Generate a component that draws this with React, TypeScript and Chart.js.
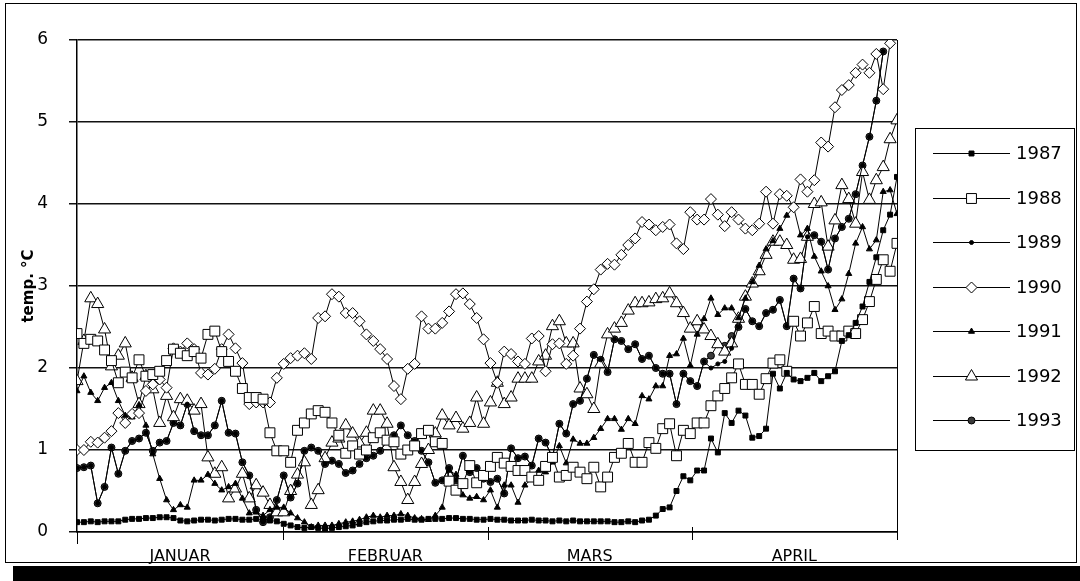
import React, { useEffect, useRef } from 'react';
import { Chart, registerables } from 'chart.js';

Chart.register(...registerables);

const FONT = "'DejaVu Sans', sans-serif";

// ---------- data ----------
const years = ['1987', '1988', '1989', '1990', '1991', '1992', '1993'];
const months = ['JANUAR', 'FEBRUAR', 'MARS', 'APRIL'];
const monthCenters = [14.95, 44.75, 74.4, 104.1];
const monthBoundaries = [29.9, 59.6, 89.25];
const yTickValues = [0, 1, 2, 3, 4, 5, 6];
const days = Array.from({ length: 120 }, (_, i) => i);

const t1987 = [
  0.12, 0.12, 0.13, 0.12, 0.13, 0.13, 0.13, 0.15, 0.16, 0.16,
  0.17, 0.17, 0.18, 0.18, 0.17, 0.14, 0.13, 0.14, 0.15, 0.15,
  0.14, 0.15, 0.16, 0.16, 0.15, 0.15, 0.16, 0.15, 0.14, 0.13,
  0.10, 0.08, 0.06, 0.05, 0.06, 0.05, 0.04, 0.05, 0.06, 0.07,
  0.08, 0.10, 0.12, 0.13, 0.14, 0.14, 0.15, 0.15, 0.16, 0.15,
  0.15, 0.16, 0.16, 0.16, 0.17, 0.17, 0.16, 0.16, 0.15, 0.15,
  0.16, 0.15, 0.15, 0.14, 0.14, 0.14, 0.15, 0.14, 0.14, 0.13,
  0.14, 0.13, 0.14, 0.13, 0.13, 0.13, 0.13, 0.13, 0.12, 0.12,
  0.13, 0.12, 0.14, 0.15, 0.2, 0.28, 0.3, 0.5, 0.68, 0.63,
  0.75, 0.75, 1.14, 0.97, 1.45, 1.33, 1.48, 1.42, 1.15, 1.17,
  1.26, 1.93, 1.75, 1.94, 1.86, 1.84, 1.88, 1.94, 1.84, 1.9,
  1.96, 2.33, 2.4, 2.55, 2.75, 3.05, 3.35, 3.68, 3.87, 4.33,
];

const t1988 = [
  2.42, 2.3, 2.35, 2.33, 2.22, 2.09, 1.82, 1.95, 1.88, 2.1,
  1.9, 1.92, 1.96, 2.09, 2.23, 2.18, 2.15, 2.2, 2.12, 2.41,
  2.45, 2.2, 2.08, 1.96, 1.75, 1.64, 1.64, 1.62, 1.21, 0.99,
  0.99, 0.85, 1.24, 1.33, 1.44, 1.48, 1.46, 1.33, 1.18, 0.96,
  1.05, 0.95, 1.0, 1.15, 1.21, 1.12, 1.1, 0.95, 1.0, 1.05,
  1.2, 1.24, 1.1, 1.08, 0.62, 0.51, 0.59, 0.81, 0.6, 0.69,
  0.8, 0.91, 0.84, 0.8, 0.75, 0.75, 0.67, 0.63, 0.8, 0.91,
  0.67, 0.69, 0.79, 0.73, 0.65, 0.79, 0.55, 0.67, 0.91, 0.96,
  1.08, 0.85, 0.85, 1.09, 1.02, 1.26, 1.32, 0.93, 1.24, 1.2,
  1.33, 1.33, 1.54, 1.66, 1.75, 1.88, 2.05, 1.8, 1.8, 1.68,
  1.87, 2.06, 2.1, 1.96, 2.57, 2.39, 2.55, 2.75, 2.42, 2.45,
  2.39, 2.39, 2.45, 2.42, 2.59, 2.81, 3.08, 3.32, 3.18, 3.52,
];

const t1989 = [
  0.78, 0.79, 0.81, 0.35, 0.55, 1.03, 0.71, 0.99, 1.11, 1.14,
  1.21, 0.99, 1.09, 1.11, 1.33, 1.3, 1.56, 1.23, 1.18, 1.18,
  1.3, 1.6, 1.21, 1.2, 0.85, 0.69, 0.27, 0.12, 0.18, 0.39,
  0.69, 0.42, 0.59, 0.99, 1.03, 0.99, 0.83, 0.87, 0.83, 0.72,
  0.75, 0.83, 0.9, 0.93, 0.99, 1.11, 1.18, 1.3, 1.18, 1.11,
  0.99, 0.85, 0.6, 0.63, 0.78, 0.63, 0.93, 0.73, 0.78, 0.65,
  0.61, 0.65, 0.47, 1.02, 0.9, 0.92, 0.81, 1.14, 1.09, 0.91,
  1.32, 1.2, 1.56, 1.6, 1.87, 2.16, 2.1, 1.95, 2.35, 2.33,
  2.23, 2.29, 2.11, 2.15, 2.0, 1.93, 1.93, 1.56, 1.93, 1.84,
  1.78, 2.08, 2.0, 2.05, 2.08, 2.24, 2.5, 2.72, 2.57, 2.51,
  2.67, 2.71, 2.83, 2.51, 3.09, 2.97, 3.6, 3.62, 3.54, 3.2,
  3.58, 3.72, 3.82, 4.12, 4.47, 4.82, 5.26, 5.86, null, null,
];

const t1990 = [
  1.0, 1.0, 1.1, 1.09, 1.15, 1.23, 1.45, 1.33, 1.44, 1.45,
  1.72, 1.8, 1.86, 1.76, 2.24, 2.2, 2.3, 2.23, 1.94, 1.92,
  1.99, 2.23, 2.41, 2.24, 2.06, 1.56, 1.58, 1.58, 1.58, 1.88,
  2.05, 2.12, 2.15, 2.18, 2.11, 2.61, 2.63, 2.9, 2.87, 2.67,
  2.67, 2.57, 2.41, 2.33, 2.23, 2.11, 1.78, 1.62, 1.99, 2.05,
  2.63, 2.48, 2.48, 2.55, 2.69, 2.9, 2.91, 2.78, 2.61, 2.35,
  2.06, 1.82, 2.2, 2.17, 2.08, 2.05, 2.36, 2.39, 1.96, 2.29,
  2.3, 2.05, 2.15, 2.48, 2.81, 2.96, 3.2, 3.27, 3.26, 3.38,
  3.5, 3.58, 3.78, 3.75, 3.68, 3.72, 3.75, 3.52, 3.45, 3.9,
  3.81, 3.81, 4.06, 3.87, 3.73, 3.9, 3.81, 3.7, 3.68, 3.76,
  4.15, 3.76, 4.12, 4.1, 3.96, 4.3, 4.15, 4.29, 4.75, 4.7,
  5.18, 5.39, 5.45, 5.6, 5.7, 5.6, 5.83, 5.4, 5.96, null,
];

const t1991 = [
  1.72, 1.9, 1.7, 1.6, 1.76, 1.82, 1.6, 1.42, 1.4, 1.55,
  1.3, 0.95, 0.65, 0.39, 0.27, 0.33, 0.3, 0.63, 0.63, 0.7,
  0.59, 0.51, 0.55, 0.59, 0.41, 0.23, 0.24, 0.2, 0.27, 0.3,
  0.3, 0.23, 0.17, 0.12, 0.06, 0.08, 0.08, 0.08, 0.1, 0.12,
  0.13, 0.15, 0.18, 0.2, 0.18, 0.2, 0.2, 0.22, 0.2, 0.17,
  0.16, 0.15, 0.2, 0.3, 0.75, 0.7, 0.45, 0.41, 0.43, 0.39,
  0.51, 0.3, 0.57, 0.57, 0.36, 0.57, 0.65, 0.75, 0.73, 0.85,
  1.05, 0.84, 1.13, 1.08, 1.08, 1.15, 1.26, 1.38, 1.38, 1.25,
  1.38, 1.32, 1.66, 1.62, 1.78, 1.78, 2.15, 2.17, 2.36, 2.03,
  2.41, 2.6, 2.85, 2.65, 2.73, 2.73, 2.61, 2.85, 3.05, 3.25,
  3.45, 3.55, 3.7, 3.86, 3.96, 3.62, 3.7, 3.36, 3.18, 3.0,
  2.71, 2.84, 3.15, 3.52, 3.72, 3.45, 3.56, 4.15, 4.17, 3.88,
];

const t1992 = [
  1.84, 2.33, 2.85, 2.78, 2.47, 2.02, 2.15, 2.3, 1.88, 1.56,
  1.9, 1.74, 1.33, 1.66, 1.4, 1.62, 1.6, 1.48, 1.56, 0.91,
  0.71, 0.79, 0.41, 0.53, 0.71, 0.41, 0.57, 0.48, 0.33, 0.24,
  0.24, 0.5, 0.7, 0.85, 0.33, 0.51, 0.9, 1.09, 1.14, 1.3,
  1.2, 1.08, 1.21, 1.48, 1.48, 1.32, 0.79, 0.61, 0.39, 0.61,
  0.83, 1.0, 1.2, 1.42, 1.3, 1.39, 1.26, 1.33, 1.64, 1.32,
  1.58, 1.82, 1.56, 1.64, 1.87, 1.87, 1.87, 2.08, 2.15, 2.51,
  2.57, 2.3, 2.3, 1.75, 1.68, 1.5, 2.05, 2.41, 2.48, 2.55,
  2.7, 2.79, 2.79, 2.8, 2.84, 2.85, 2.91, 2.79, 2.67, 2.48,
  2.57, 2.47, 2.39, 2.29, 2.2, 2.3, 2.6, 2.87, 3.03, 3.18,
  3.38, 3.54, 3.54, 3.5, 3.32, 3.33, 3.6, 4.0, 4.02, 3.48,
  3.8, 4.23, 4.06, 3.76, 4.39, 4.05, 4.29, 4.45, 4.79, 5.02,
];

const t1993 = [
  0.78, 0.79, 0.81, 0.35, 0.55, 1.03, 0.71, 0.99, 1.11, 1.14,
  1.21, 0.99, 1.09, 1.11, 1.33, 1.3, 1.56, 1.23, 1.18, 1.18,
  1.3, 1.6, 1.21, 1.2, 0.85, 0.69, 0.27, 0.12, 0.18, 0.39,
  0.69, 0.42, 0.59, 0.99, 1.03, 0.99, 0.83, 0.87, 0.83, 0.72,
  0.75, 0.83, 0.9, 0.93, 0.99, 1.11, 1.18, 1.3, 1.18, 1.11,
  0.99, 0.85, 0.6, 0.63, 0.78, 0.63, 0.93, 0.73, 0.78, 0.65,
  0.61, 0.65, 0.47, 1.02, 0.9, 0.92, 0.81, 1.14, 1.09, 0.91,
  1.32, 1.2, 1.56, 1.6, 1.87, 2.16, 2.1, 1.95, 2.35, 2.33,
  2.23, 2.29, 2.11, 2.15, 2.0, 1.93, 1.93, 1.56, 1.93, 1.84,
  1.78, 2.08, 2.15, 2.29, 2.27, 2.39, 2.5, 2.72, 2.57, 2.51,
  2.67, 2.71, 2.83, 2.51, 3.09, 2.97, 3.6, 3.62, 3.54, 3.2,
  3.58, 3.72, 3.82, 4.12, 4.47, 4.82, 5.26, 5.86, null, null,
];

const seriesValues = [t1987, t1988, t1989, t1990, t1991, t1992, t1993];

// marker styles per year
const markerStyles = [
  { shape: 'rect', radius: 3.5, fill: '#000000' },
  { shape: 'rect', radius: 7, fill: '#ffffff' },
  { shape: 'circle', radius: 2, fill: '#000000' },
  { shape: 'rectRot', radius: 5.5, fill: '#ffffff' },
  { shape: 'triangle', radius: 3.5, fill: '#000000' },
  { shape: 'triangle', radius: 7, fill: '#ffffff' },
  { shape: 'circle', radius: 3.5, fill: '#3a3a3a' },
];

function drawMarker(ctx: CanvasRenderingContext2D, shape: string, r: number, x: number, y: number, fill: string) {
  ctx.beginPath();
  if (shape === 'rect') {
    const s = r * Math.SQRT1_2;
    ctx.rect(x - s, y - s, 2 * s, 2 * s);
  } else if (shape === 'rectRot') {
    ctx.moveTo(x - r, y);
    ctx.lineTo(x, y - r);
    ctx.lineTo(x + r, y);
    ctx.lineTo(x, y + r);
    ctx.closePath();
  } else if (shape === 'triangle') {
    let a = 0;
    ctx.moveTo(x + Math.sin(a) * r, y - Math.cos(a) * r);
    a += (2 * Math.PI) / 3;
    ctx.lineTo(x + Math.sin(a) * r, y - Math.cos(a) * r);
    a += (2 * Math.PI) / 3;
    ctx.lineTo(x + Math.sin(a) * r, y - Math.cos(a) * r);
    ctx.closePath();
  } else {
    ctx.arc(x, y, r, 0, Math.PI * 2);
  }
  ctx.fillStyle = fill;
  ctx.fill();
  ctx.strokeStyle = '#000';
  ctx.lineWidth = 1;
  ctx.stroke();
}

const decorPlugin = {
  id: 'decor',
  afterDraw(chart: any) {
    const ctx: CanvasRenderingContext2D = chart.ctx;
    const area = chart.chartArea;
    const xs = chart.scales.x;
    ctx.save();
    ctx.strokeStyle = '#000';
    ctx.lineWidth = 1;
    // right border of plot
    ctx.beginPath();
    ctx.moveTo(Math.round(area.right) + 0.5, area.top);
    ctx.lineTo(Math.round(area.right) + 0.5, area.bottom + 8);
    // left axis extension
    ctx.moveTo(Math.round(area.left) + 0.5, area.bottom);
    ctx.lineTo(Math.round(area.left) + 0.5, area.bottom + 12);
    // month boundary ticks
    monthBoundaries.forEach((b) => {
      const px = Math.round(xs.getPixelForValue(b)) + 0.5;
      ctx.moveTo(px, area.bottom - 5);
      ctx.lineTo(px, area.bottom + 8);
    });
    ctx.stroke();

    // outer frame
    ctx.strokeRect(5.5, 3.5, 1071, 559);
    // shadow bar
    ctx.fillStyle = '#000';
    ctx.fillRect(13, 566, 1067, 15);

    // legend
    const lx = 915.5, ly = 128.5, lw = 159, lh = 322;
    ctx.fillStyle = '#fff';
    ctx.fillRect(lx, ly, lw, lh);
    ctx.strokeStyle = '#000';
    ctx.strokeRect(lx, ly, lw, lh);
    ctx.font = `18px ${FONT}`;
    ctx.textBaseline = 'middle';
    ctx.textAlign = 'left';
    years.forEach((yr, k) => {
      const ry = Math.round(153 + k * 44.5) + 0.5;
      ctx.beginPath();
      ctx.moveTo(933, ry);
      ctx.lineTo(1010, ry);
      ctx.strokeStyle = '#000';
      ctx.lineWidth = 1;
      ctx.stroke();
      const st = markerStyles[k];
      drawMarker(ctx, st.shape, st.radius, 971.5, ry, st.fill);
      ctx.fillStyle = '#000';
      ctx.fillText(yr, 1016, ry + 1);
    });
    ctx.restore();
  },
};

export default function App() {
  const ref = useRef<HTMLCanvasElement | null>(null);

  useEffect(() => {
    if (!ref.current) return;
    const chart = new Chart(ref.current, {
      type: 'line',
      data: {
        labels: days,
        datasets: years.map((yr, k) => ({
          label: yr,
          data: seriesValues[k],
          borderColor: '#000',
          borderWidth: 1,
          backgroundColor: markerStyles[k].fill,
          pointStyle: markerStyles[k].shape as any,
          pointRadius: markerStyles[k].radius,
          pointBackgroundColor: markerStyles[k].fill,
          pointBorderColor: '#000',
          pointBorderWidth: 1,
          fill: false,
          tension: 0,
          spanGaps: false,
        })),
      },
      options: {
        animation: false,
        responsive: false,
        devicePixelRatio: 1,
        layout: { padding: { left: 20, top: 40, right: 183, bottom: 10 } },
        plugins: {
          legend: { display: false },
          tooltip: { enabled: false },
        },
        scales: {
          x: {
            type: 'linear',
            min: 0,
            max: 119,
            afterBuildTicks: (s: any) => {
              s.ticks = monthCenters.map((v) => ({ value: v }));
            },
            afterFit: (s: any) => {
              s.height = 581 - 532 - 10;
            },
            ticks: {
              callback: (_v: any, i: number) => months[i],
              font: { family: FONT, size: 16 },
              color: '#000',
              padding: 7,
              maxRotation: 0,
              autoSkip: false,
            },
            grid: { display: false },
            border: { display: true, color: '#000', width: 1.5 },
          },
          y: {
            min: 0,
            max: 6,
            afterBuildTicks: (s: any) => {
              s.ticks = yTickValues.map((v) => ({ value: v }));
            },
            afterFit: (s: any) => {
              s.width = 77 - 20;
            },
            ticks: {
              font: { family: FONT, size: 17 },
              color: '#000',
              padding: 21,
            },
            grid: { color: '#111', lineWidth: 1.5, tickLength: 8, drawTicks: true },
            border: { display: true, color: '#000', width: 1.5 },
            title: {
              display: true,
              text: 'temp. °C',
              font: { family: FONT, size: 15, weight: 'bold' },
              color: '#000',
              padding: 0,
            },
          },
        },
      },
      plugins: [decorPlugin],
    });
    return () => chart.destroy();
  }, []);

  return (
    <div style={{ position: 'fixed', left: 0, top: 0, width: 1080, height: 581, background: '#fff' }}>
      <canvas ref={ref} width={1080} height={581} style={{ display: 'block', width: 1080, height: 581 }} />
    </div>
  );
}
